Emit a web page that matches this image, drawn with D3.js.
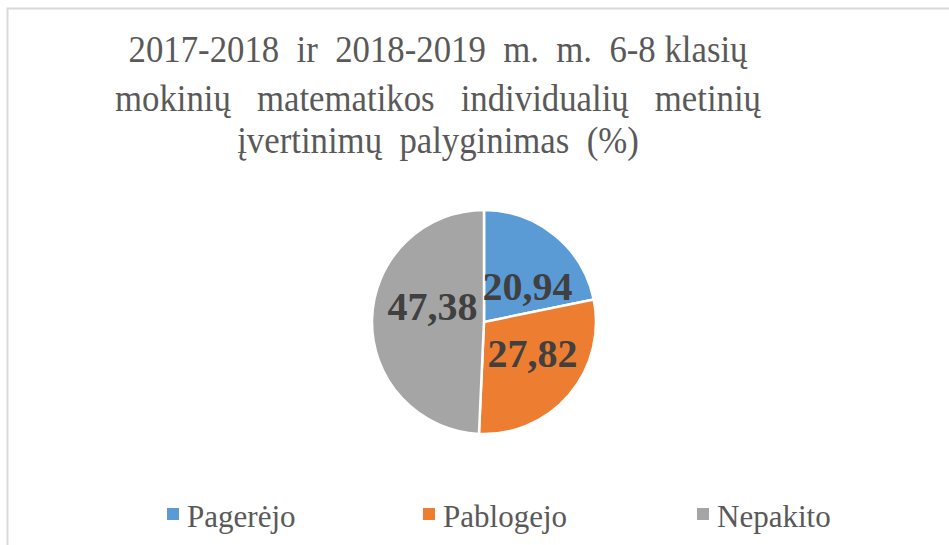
<!DOCTYPE html>
<html>
<head>
<meta charset="utf-8">
<script src="https://cdn.jsdelivr.net/npm/d3@7"></script>
<style>
  body { margin: 0; background: #fff; }
  svg { display: block; }
</style>
</head>
<body>
<div id="chart"></div>
<script>
const titleLines = [
  '2017-2018  ir  2018-2019  m.  m.  6-8 klasių',
  'mokinių   matematikos   individualių   metinių',
  'įvertinimų  palyginimas  (%)'
]
const categories = ['Pagerėjo', 'Pablogejo', 'Nepakito']
const values = [20.94, 27.82, 47.38]
const colors = ['#5b9bd5', '#ed7d31', '#a5a5a5']

const width = 949
const height = 545
const font = '"Liberation Serif", "Times New Roman", serif'

const svg = d3.select('#chart').append('svg')
  .attr('width', width)
  .attr('height', height)

// chart border (runs off the right / bottom edge)
svg.append('rect')
  .attr('x', 7.5).attr('y', 8.5)
  .attr('width', width + 10).attr('height', height + 10)
  .attr('fill', '#fff')
  .attr('stroke', '#d9d9d9')
  .attr('stroke-width', 2)

// title, condensed like the original
const titleY = [62, 111, 153]
titleLines.forEach((t, i) => {
  svg.append('text')
    .attr('transform', `translate(438, ${titleY[i]}) scale(0.94, 1)`)
    .attr('text-anchor', 'middle')
    .attr('font-family', font)
    .attr('font-size', 37)
    .attr('fill', '#595959')
    .style('white-space', 'pre')
    .text(t)
})

// pie
const cx = 484, cy = 322, r = 112
const pie = d3.pie().sort(null).value(d => d)
const arc = d3.arc().innerRadius(0).outerRadius(r)
const arcs = pie(values)

const g = svg.append('g').attr('transform', `translate(${cx}, ${cy})`)
g.selectAll('path')
  .data(arcs)
  .enter()
  .append('path')
  .attr('d', arc)
  .attr('fill', (d, i) => colors[i])
  .attr('stroke', '#fff')
  .attr('stroke-width', 2.5)

// data labels (baseline positions relative to centre)
const labelPos = [[43.5, -22], [48.5, 45], [-51.5, -2]]
g.selectAll('text.lbl')
  .data(arcs)
  .enter()
  .append('text')
  .attr('class', 'lbl')
  .attr('transform', (d, i) => `translate(${labelPos[i][0]}, ${labelPos[i][1]})`)
  .attr('text-anchor', 'middle')
  .attr('font-family', font)
  .attr('font-weight', 'bold')
  .attr('font-size', 40)
  .attr('fill', '#404040')
  .text(d => d3.format('.2f')(d.value).replace('.', ','))

// legend
const legendX = [167, 423, 697]
const legend = svg.append('g')
categories.forEach((c, i) => {
  legend.append('rect')
    .attr('x', legendX[i]).attr('y', 508)
    .attr('width', 12).attr('height', 12)
    .attr('fill', colors[i])
  legend.append('text')
    .attr('transform', `translate(${legendX[i] + 20}, 527) scale(0.97, 1)`)
    .attr('font-family', font)
    .attr('font-size', 32)
    .attr('fill', '#595959')
    .text(c)
})
</script>
</body>
</html>
